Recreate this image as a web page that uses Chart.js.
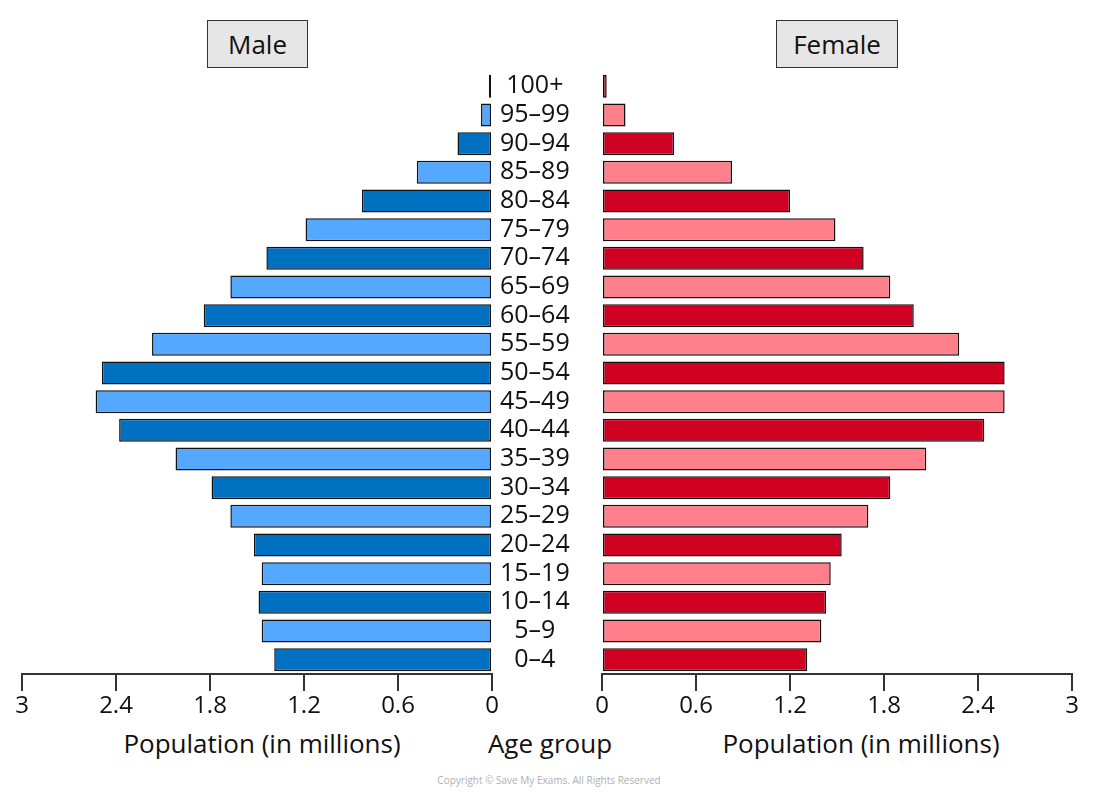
<!DOCTYPE html>
<html>
<head>
<meta charset="utf-8">
<script src="https://cdn.jsdelivr.net/npm/chart.js@4"></script>
<style>
  body { margin: 0; background: #fff; font-family: "Open Sans", sans-serif; }
  #wrap { position: relative; width: 1100px; height: 802px; overflow: hidden; }
  canvas { position: absolute; top: 0; }
  #left { left: 0; }
  #right { left: 592px; }
  .box { position: absolute; top: 20px; height: 46px; background: #e6e6e6; border: 1.5px solid #333;
         font-size: 26px; line-height: 46px; text-align: center; color: #111; }
  .lbl { position: absolute; top: 725px; font-size: 26px; color: #111; white-space: nowrap; transform: translateX(-50%); }
  #copy { position: absolute; top: 773px; left: 549px; transform: translateX(-50%); font-size: 10px; color: #b0b0b0; white-space: nowrap; }
</style>
</head>
<body>
<div id="wrap">
  <canvas id="left" width="602" height="720"></canvas>
  <canvas id="right" width="508" height="720"></canvas>
  <div class="box" style="left:207px; width:99px;">Male</div>
  <div class="box" style="left:776px; width:120px;">Female</div>
  <div class="lbl" style="left:262px;">Population (in millions)</div>
  <div class="lbl" style="left:550px;">Age group</div>
  <div class="lbl" style="left:861px;">Population (in millions)</div>
  <div id="copy">Copyright © Save My Exams. All Rights Reserved</div>
</div>
<script>
const ageGroups = ['100+', '95–99', '90–94', '85–89', '80–84', '75–79', '70–74', '65–69', '60–64', '55–59',
  '50–54', '45–49', '40–44', '35–39', '30–34', '25–29', '20–24', '15–19', '10–14', '5–9', '0–4'];
const male = [0.02, 0.07, 0.22, 0.48, 0.83, 1.19, 1.44, 1.67, 1.84, 2.17,
  2.49, 2.53, 2.38, 2.02, 1.79, 1.67, 1.52, 1.47, 1.49, 1.47, 1.39];
const female = [0.03, 0.15, 0.46, 0.83, 1.20, 1.49, 1.67, 1.84, 1.99, 2.28,
  2.57, 2.57, 2.44, 2.07, 1.84, 1.70, 1.53, 1.46, 1.43, 1.40, 1.31];
const xTicks = [0, 0.6, 1.2, 1.8, 2.4, 3];

const maleColors = ageGroups.map((a, i) => i % 2 === 0 ? '#0070c0' : '#55a8ff');
const femaleColors = ageGroups.map((a, i) => i % 2 === 0 ? '#d00022' : '#ff808a');

const tickFont = { family: '"Open Sans", sans-serif', size: 24 };
const ageFont = { family: '"Open Sans", sans-serif', size: 25 };

function xAxis(reverse) {
  return {
    type: 'linear',
    min: 0,
    max: 3,
    reverse: reverse,
    afterBuildTicks: function(scale) {
      scale.ticks = xTicks.map(v => ({ value: v }));
    },
    afterFit: function(scale) { scale.height = 46; },
    grid: { drawOnChartArea: false, drawTicks: true, tickLength: 17, color: '#333', lineWidth: 2 },
    border: { display: true, color: '#333', width: 2 },
    ticks: {
      color: '#111', font: tickFont, padding: 1, maxRotation: 0, autoSkip: false,
      callback: function(value) { return String(value); }
    }
  };
}

function makeChart(id, data, colors, reverse, showLabels, padding) {
  const ctx = document.getElementById(id).getContext('2d');
  return new Chart(ctx, {
    type: 'bar',
    data: {
      labels: ageGroups,
      datasets: [{
        data: data,
        backgroundColor: colors,
        borderColor: '#111',
        borderWidth: 1.5,
        borderSkipped: false,
        categoryPercentage: 0.8,
        barPercentage: 1
      }]
    },
    options: {
      indexAxis: 'y',
      responsive: false,
      animation: false,
      layout: { padding: padding },
      plugins: { legend: { display: false }, tooltip: { enabled: false } },
      scales: {
        x: xAxis(reverse),
        y: {
          display: showLabels,
          position: 'right',
          afterFit: function(scale) { scale.width = showLabels ? 110 : 0; },
          grid: { display: false },
          border: { display: false },
          ticks: { color: '#111', font: ageFont, crossAlign: 'center', padding: 0, autoSkip: false }
        }
      }
    }
  });
}

makeChart('left', male, maleColors, true, true, { left: 22, right: 0, top: 72, bottom: 0 });
makeChart('right', female, femaleColors, false, false, { left: 10, right: 28, top: 72, bottom: 0 });
</script>
</body>
</html>
